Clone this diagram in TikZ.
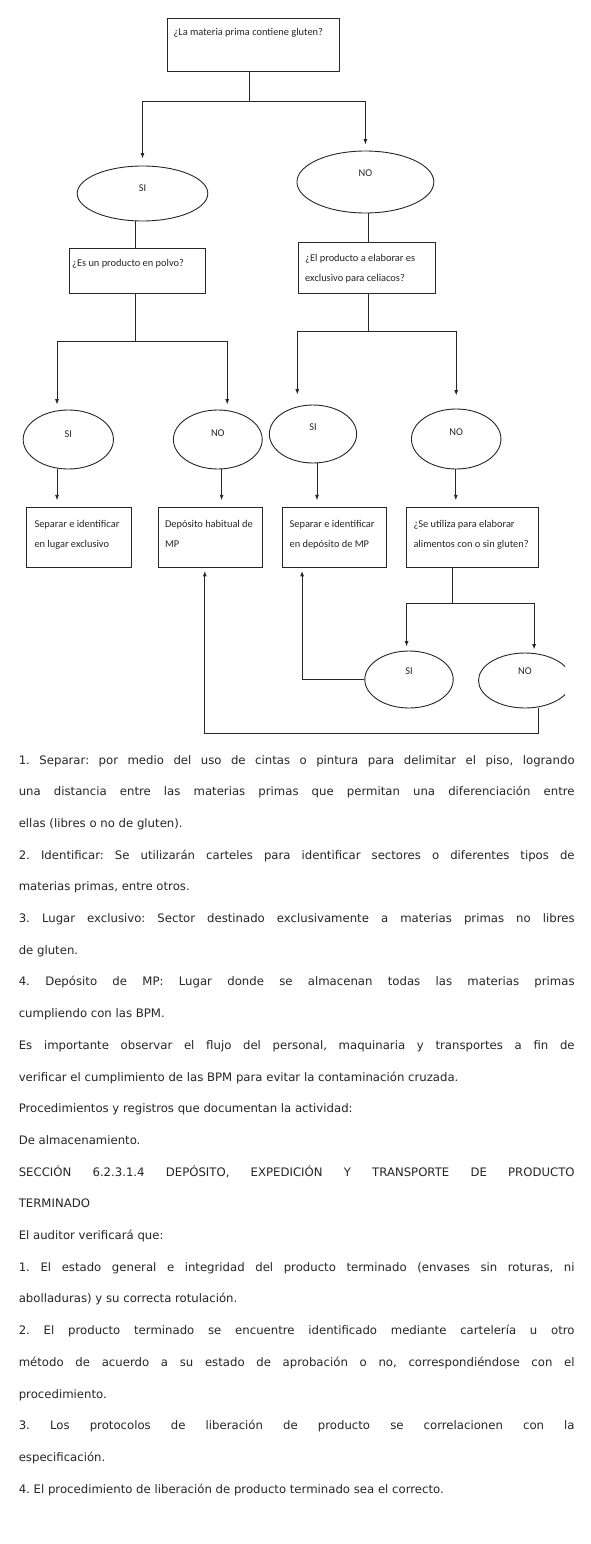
\documentclass[tikz,border=0pt]{standalone}
\usepackage{fontspec}
\setmainfont{DejaVu Sans}
\newfontfamily\boxfont{Carlito}
\usetikzlibrary{arrows.meta,shapes.geometric,calc}
\newcommand{\jl}[1]{\makebox[555.8pt][s]{#1}}
\frenchspacing
\begin{document}
\begin{tikzpicture}[x=1pt,y=-1pt,
  ln/.style={line width=0.9pt, draw=black!85},
  arr/.style={ln, -{Latex[length=5.5pt,width=4pt]}},
  fbox/.style={draw=black!85, line width=0.9pt, rectangle, inner sep=0pt, anchor=north west},
  oval/.style={draw=black!85, line width=0.9pt, ellipse, inner sep=0pt},
  btxt/.style={font=\boxfont\fontsize{10.4}{12}\selectfont, inner sep=0pt, anchor=base west, text=black!85},
  otxt/.style={font=\boxfont\fontsize{10.4}{12}\selectfont, text=black!85, inner sep=0pt},
  para/.style={font=\fontsize{11.7}{14}\selectfont, inner sep=0pt, anchor=base west, text=black!85},
]
\useasboundingbox[fill=white] (0,0) rectangle (590,1544);

% ---------- boxes ----------
\node[fbox, minimum width=172.7pt, minimum height=53pt] (q1) at (166.7,17.7) {};
\node[fbox, minimum width=136.6pt, minimum height=45pt] (q2) at (68.6,248.3) {};
\node[fbox, minimum width=136.8pt, minimum height=51.6pt] (q3) at (297.7,241.7) {};
\node[fbox, minimum width=104.5pt, minimum height=59.7pt] (bA) at (26.1,507.3) {};
\node[fbox, minimum width=104.4pt, minimum height=59.7pt] (bB) at (157.8,507.3) {};
\node[fbox, minimum width=103.6pt, minimum height=59.7pt] (bC) at (282.4,507.3) {};
\node[fbox, minimum width=132.4pt, minimum height=59.7pt] (bD) at (405.8,507.3) {};

% ---------- box texts ----------
\node[btxt] (t1) at (173.4,36) {¿La materia prima contiene gluten?};
\node[btxt] (t2) at (72,266.5) {¿Es un producto en polvo?};
\node[btxt] (t3a) at (305,261) {¿El producto a elaborar es};
\node[btxt] (t3b) at (305,281.5) {exclusivo para celiacos?};
\node[btxt] (tAa) at (34.3,527) {Separar e identificar};
\node[btxt] (tAb) at (34.3,547.5) {en lugar exclusivo};
\node[btxt] (tBa) at (164.9,527) {Depósito habitual de};
\node[btxt] (tBb) at (164.9,547.5) {MP};
\node[btxt] (tCa) at (289.4,527) {Separar e identificar};
\node[btxt] (tCb) at (289.4,547.5) {en depósito de MP};
\node[btxt] (tDa) at (413.3,527) {¿Se utiliza para elaborar};
\node[btxt] (tDb) at (413.3,547.5) {alimentos con o sin gluten?};

% ---------- ellipses ----------
\node[oval, minimum width=130.6pt, minimum height=55pt, label={[otxt,yshift=5.5pt]center:SI}] (si1) at (142.5,193.5) {};
\node[oval, minimum width=136.9pt, minimum height=62pt, label={[otxt,yshift=9pt]center:NO}] (no1) at (365.4,182) {};
\node[oval, minimum width=90.3pt, minimum height=59pt, label={[otxt,yshift=5.5pt]center:SI}] (si2) at (68.3,439.5) {};
\node[oval, minimum width=88.8pt, minimum height=59pt, label={[otxt,yshift=6.5pt]center:NO}] (no2) at (217.8,439.5) {};
\node[oval, minimum width=87.3pt, minimum height=58pt, label={[otxt,yshift=7pt]center:SI}] (si3) at (313,434) {};
\node[oval, minimum width=89.5pt, minimum height=60pt, label={[otxt,yshift=7pt]center:NO}] (no3) at (456.2,439) {};
\node[oval, minimum width=88.4pt, minimum height=57pt, label={[otxt,yshift=8.5pt]center:SI}] (si4) at (409,679.5) {};
\begin{scope}
\clip (0,0) rectangle (565.1,1544);
\node[oval, minimum width=93pt, minimum height=55pt, label={[otxt,yshift=9.5pt]center:NO}] (no4) at (525,680.5) {};
\end{scope}

% ---------- connectors ----------
\coordinate (j1) at (249.5,101);
\draw[ln] (249.5,0 |- q1.south) -- (j1);
\draw[arr, shorten >=7pt] (j1) -| (si1.north);
\draw[arr, shorten >=6pt] (j1) -| (no1.north);

\draw[ln] (135,0 |- si1.south) -- (135,0 |- q2.north);
\draw[ln] (368.5,0 |- no1.south) -- (368.5,0 |- q3.north);

\coordinate (j2) at (135,341);
\coordinate (j2l) at (57,341);
\coordinate (j2r) at (227.2,341);
\draw[ln] (135,0 |- q2.south) -- (j2);
\draw[ln] (j2l) -- (j2r);
\draw[arr, shorten >=5pt] (j2l) -- (j2l |- si2.north);
\draw[arr, shorten >=5pt] (j2r) -- (j2r |- no2.north);

\coordinate (j3) at (368.5,331);
\coordinate (j3l) at (297.3,331);
\coordinate (j3r) at (456.2,331);
\draw[ln] (368.5,0 |- q3.south) -- (j3);
\draw[ln] (j3l) -- (j3r);
\draw[arr, shorten >=10pt] (j3l) -- (j3l |- si3.north);
\draw[arr, shorten >=13pt] (j3r) -- (j3r |- no3.north);

\draw[arr, shorten >=7pt] (57,0 |- si2.south) -- (57,0 |- bA.north);
\draw[arr, shorten >=7pt] (221.6,0 |- no2.south) -- (221.6,0 |- bB.north);
\draw[arr, shorten >=7pt] (317,0 |- si3.south) -- (317,0 |- bC.north);
\draw[arr, shorten >=7pt] (455.8,0 |- no3.south) -- (455.8,0 |- bD.north);

\coordinate (j4) at (452.4,603);
\coordinate (j4l) at (406.6,603);
\coordinate (j4r) at (534.1,603);
\draw[ln] (452.4,0 |- bD.south) -- (j4);
\draw[ln] (j4l) -- (j4r);
\draw[arr, shorten >=4pt] (j4l) -- (j4l |- si4.north);
\draw[arr, shorten >=3pt] (j4r) -- (j4r |- no4.north);

\draw[arr, shorten >=3pt] (si4.west) -- (302.1,0 |- si4.west) -- (302.1,0 |- bC.south);
\coordinate (k1) at (538.2,733);
\coordinate (k2) at (204.8,733);
\draw[arr, shorten >=3pt] (538.2,0 |- no4.south) -- (k1) -- (k2) -- (204.8,0 |- bB.south);

% ---------- text ----------
\node[para] (p0) at (18.6,764) {\jl{1. Separar: por medio del uso de cintas o pintura para delimitar el piso, logrando}};
\node[para] (p1) at (18.6,795.7) {\jl{una distancia entre las materias primas que permitan una diferenciación entre}};
\node[para] (p2) at (18.6,827.4) {ellas (libres o no de gluten).};
\node[para] (p3) at (18.6,859.1) {\jl{2. Identificar: Se utilizarán carteles para identificar sectores o diferentes tipos de}};
\node[para] (p4) at (18.6,890.8) {materias primas, entre otros.};
\node[para] (p5) at (18.6,922.5) {\jl{3. Lugar exclusivo: Sector destinado exclusivamente a materias primas no libres}};
\node[para] (p6) at (18.6,954.2) {de gluten.};
\node[para] (p7) at (18.6,985.9) {\jl{4. Depósito de MP: Lugar donde se almacenan todas las materias primas}};
\node[para] (p8) at (18.6,1017.6) {cumpliendo con las BPM.};
\node[para] (p9) at (18.6,1049.3) {\jl{Es importante observar el flujo del personal, maquinaria y transportes a fin de}};
\node[para] (p10) at (18.6,1081) {verificar el cumplimiento de las BPM para evitar la contaminación cruzada.};
\node[para] (p11) at (18.6,1112.7) {Procedimientos y registros que documentan la actividad:};
\node[para] (p12) at (18.6,1144.4) {De almacenamiento.};
\node[para] (p13) at (18.6,1176.1) {\jl{SECCIÓN 6.2.3.1.4 DEPÓSITO, EXPEDICIÓN Y TRANSPORTE DE PRODUCTO}};
\node[para] (p14) at (18.6,1207.8) {TERMINADO};
\node[para] (p15) at (18.6,1239.5) {El auditor verificará que:};
\node[para] (p16) at (18.6,1271.2) {\jl{1. El estado general e integridad del producto terminado (envases sin roturas, ni}};
\node[para] (p17) at (18.6,1302.9) {abolladuras) y su correcta rotulación.};
\node[para] (p18) at (18.6,1334.6) {\jl{2. El producto terminado se encuentre identificado mediante cartelería u otro}};
\node[para] (p19) at (18.6,1366.3) {\jl{método de acuerdo a su estado de aprobación o no, correspondiéndose con el}};
\node[para] (p20) at (18.6,1398) {procedimiento.};
\node[para] (p21) at (18.6,1429.7) {\jl{3. Los protocolos de liberación de producto se correlacionen con la}};
\node[para] (p22) at (18.6,1461.4) {especificación.};
\node[para] (p23) at (18.6,1493.1) {4. El procedimiento de liberación de producto terminado sea el correcto.};
\end{tikzpicture}
\end{document}
